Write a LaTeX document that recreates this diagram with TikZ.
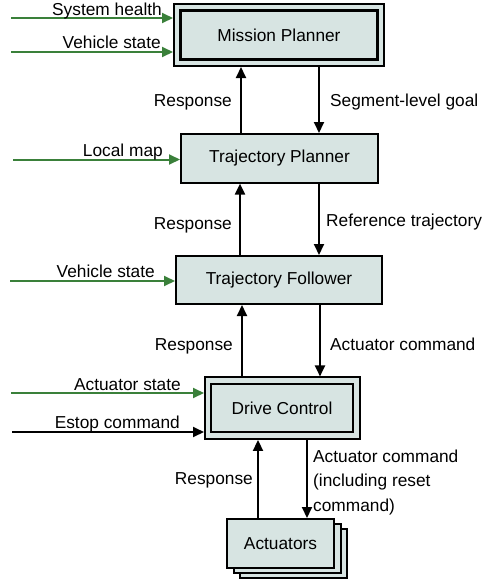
\documentclass[tikz,border=0pt]{standalone}
\usepackage{fontspec}
\setmainfont{Liberation Sans}
\usetikzlibrary{arrows.meta}
\definecolor{boxfill}{RGB}{215,228,226}
\definecolor{inputgreen}{RGB}{58,128,58}
\begin{document}
\begin{tikzpicture}[x=1pt,y=-1pt,
  every node/.style={font=\fontsize{17.3}{24.5}\selectfont, text=black},
  block/.style={draw=black, line width=2pt, fill=boxfill, inner sep=0pt},
  flow/.style={draw=black, line width=2pt, -{Triangle[length=11pt,width=10pt]}},
  inflow/.style={draw=inputgreen, line width=2pt, -{Triangle[length=11pt,width=10pt]}},
  lbl/.style={inner sep=0pt},
]
\useasboundingbox (0,0) rectangle (485,587);

% ---- blocks ----
% Mission Planner: double frame
\node[block, minimum width=210pt, minimum height=62pt] (mpo) at (279,35) {};
\node[block, line width=2.4pt, minimum width=197pt, minimum height=49pt] (mp) at (279,35) {Mission Planner};

\node[block, minimum width=197pt, minimum height=48.6pt] (tp) at (279.5,158.3) {Trajectory Planner};
\node[block, minimum width=206pt, minimum height=48pt] (tf) at (279,280) {Trajectory Follower};

% Drive Control: double frame
\node[block, minimum width=155pt, minimum height=61.5pt] (dco) at (282.5,408.2) {};
\node[block, line width=2.4pt, minimum width=142pt, minimum height=48.5pt] (dc) at (282,408) {Drive Control};

% Actuators: stacked cards
\node[block, minimum width=107pt, minimum height=49pt] (act3) at (293.5,553.5) {};
\node[block, minimum width=107pt, minimum height=49pt] (act2) at (287,548.5) {};
\node[block, minimum width=107pt, minimum height=49pt] (act) at (280.5,543.5) {Actuators};

% ---- vertical connectors ----
\coordinate (uA) at (241,0);  \coordinate (dA) at (319,0);
\coordinate (uB) at (240,0);  \coordinate (dB) at (319,0);
\coordinate (uC) at (242,0);  \coordinate (dC) at (320,0);
\coordinate (uD) at (258,0);  \coordinate (dD) at (307,0);

\draw[flow] (tp.north -| uA) -- (mpo.south -| uA);
\draw[flow] (mpo.south -| dA) -- (tp.north -| dA);
\draw[flow] (tf.north -| uB) -- (tp.south -| uB);
\draw[flow] (tp.south -| dB) -- (tf.north -| dB);
\draw[flow] (dco.north -| uC) -- (tf.south -| uC);
\draw[flow] (tf.south -| dC) -- (dco.north -| dC);
\draw[flow] (act.north -| uD) -- (dco.south -| uD);
\draw[flow] (dco.south -| dD) -- (act.north -| dD);

% connector labels
\node[lbl, anchor=base east] (r1) at (232,106) {Response};
\node[lbl, anchor=base west] (g1) at (330,106) {Segment-level goal};
\node[lbl, anchor=base east] (r2) at (232,229.5) {Response};
\node[lbl, anchor=base west] (g2) at (326,226.5) {Reference trajectory};
\node[lbl, anchor=base east] (r3) at (233,350.5) {Response};
\node[lbl, anchor=base west] (g3) at (330,350.5) {Actuator command};
\node[lbl, anchor=base east] (r4) at (253,484) {Response};
% the base anchor of a multi-line node sits on its last line
\node[lbl, anchor=base west, align=left] (g4) at (313,511) {Actuator command\\(including reset\\command)};

% ---- external inputs ----
\coordinate (inSH) at (11,18);
\coordinate (inVA) at (11,52);
\coordinate (inLM) at (13,159.5);
\coordinate (inVB) at (10,281);
\coordinate (inAS) at (11,393);
\coordinate (inES) at (12,432);

\draw[inflow] (inSH) -- (inSH -| mpo.west);
\draw[inflow] (inVA) -- (inVA -| mpo.west);
\draw[inflow] (inLM) -- (inLM -| tp.west);
\draw[inflow] (inVB) -- (inVB -| tf.west);
\draw[inflow] (inAS) -- (inAS -| dco.west);
\draw[flow]   (inES) -- (inES -| dco.west);

\node[lbl, anchor=base east] (lSH) at (162,15) {System health};
\node[lbl, anchor=base east] (lVA) at (161,48.5) {Vehicle state};
\node[lbl, anchor=base east] (lLM) at (163,156) {Local map};
\node[lbl, anchor=base east] (lVB) at (155,277) {Vehicle state};
\node[lbl, anchor=base east] (lAS) at (181,390) {Actuator state};
\node[lbl, anchor=base east] (lES) at (180,428) {Estop command};
\end{tikzpicture}
\end{document}
